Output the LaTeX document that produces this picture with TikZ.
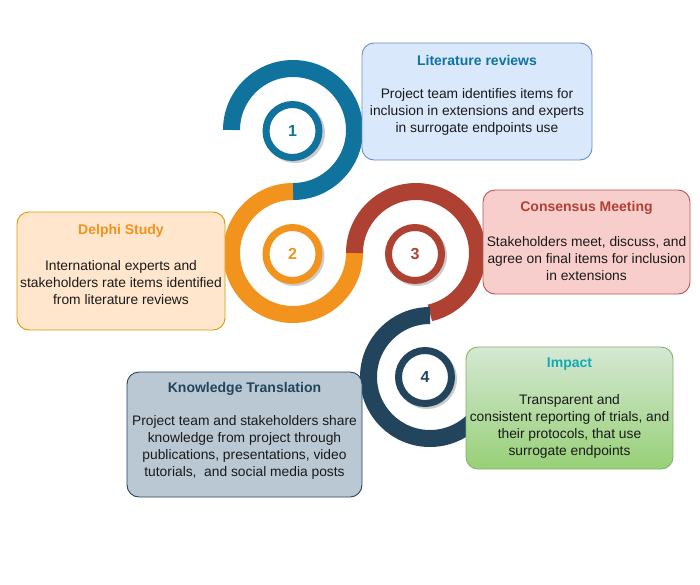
\documentclass[tikz,border=0pt]{standalone}
\usepackage{fontspec}
\setmainfont{Liberation Sans}
\definecolor{cBlue}{HTML}{10739E}
\definecolor{cOrange}{HTML}{F2931E}
\definecolor{cRed}{HTML}{AE4132}
\definecolor{cNavy}{HTML}{23445D}
\definecolor{cTeal}{HTML}{12AAB5}
\definecolor{fBlue}{HTML}{DAE8FC}
\definecolor{sBlue}{HTML}{6C8EBF}
\definecolor{fOrange}{HTML}{FFE6CC}
\definecolor{sOrange}{HTML}{D79B00}
\definecolor{fRed}{HTML}{F8CECC}
\definecolor{sRed}{HTML}{B85450}
\definecolor{fGreenT}{HTML}{D5E8D4}
\definecolor{fGreenB}{HTML}{97D077}
\definecolor{sGreen}{HTML}{82B366}
\definecolor{fGray}{HTML}{BAC8D3}
\definecolor{sGray}{HTML}{23445D}
\definecolor{txt}{HTML}{1A1A1A}
\tikzset{
  band/.style={line width=17pt},
  ringnode/.style={circle, draw=#1, line width=7pt, fill=white, minimum size=53pt, inner sep=0pt,
    text=#1, font=\fontsize{16}{16}\selectfont\bfseries},
  shade/.style={fill=black!20},
  infobox/.style={draw, rounded corners=12pt, line width=0.9pt, inner sep=0pt},
  boxtitle/.style={font=\fontsize{14}{17}\selectfont\bfseries, inner sep=0pt},
  boxbody/.style={font=\fontsize{13.8}{17}\selectfont, text=txt, align=center, inner sep=0pt},
}
\begin{document}
\begin{tikzpicture}[x=1pt,y=-1pt]
\useasboundingbox (0,0) rectangle (700,584);
% arc centres
\coordinate (c1) at (293,130);
\coordinate (c2) at (293,253);
\coordinate (c3) at (416,253);
\coordinate (c4) at (430,377);
% spiral bands
\draw[band, cBlue]   (c1) ++(-180:61.5) arc[start angle=-180, end angle=90, radius=61.5];
\draw[band, cOrange] (c2) ++(-90:61.5) arc[start angle=-90, end angle=-360, radius=61.5];
\draw[band, cRed]    (c3) ++(-180:61.5) arc[start angle=-180, end angle=77, radius=61.5];
\draw[band, cNavy]   (c4) ++(-90:61.5) arc[start angle=-90, end angle=-340, radius=61.5];
% number rings with shadows
\fill[shade] (295,133) circle[radius=30];
\node[ringnode=cBlue] (n1) at (292.5,131) {1};
\fill[shade] (294.5,256) circle[radius=30];
\node[ringnode=cOrange] (n2) at (292.5,254) {2};
\fill[shade] (417,256) circle[radius=30];
\node[ringnode=cRed] (n3) at (415,254) {3};
\fill[shade] (427,379) circle[radius=30];
\node[ringnode=cNavy] (n4) at (425,377) {4};
% boxes
\node[infobox, draw=sBlue, fill=fBlue, minimum width=230pt, minimum height=117pt] (b1) at (477,101.5) {};
\node[boxtitle, text=cBlue] (t1) at (477,60.5) {Literature reviews};
\node[boxbody] (d1) at (477,111.5) {Project team identifies items for\\inclusion in extensions and experts\\in surrogate endpoints use};

\node[infobox, draw=sOrange, fill=fOrange, minimum width=208pt, minimum height=118pt] (b2) at (121,271) {};
\node[boxtitle, text=cOrange] (t2) at (121,230.5) {Delphi Study};
\node[boxbody] (d2) at (121,282.5) {International experts and\\stakeholders rate items identified\\from literature reviews};

\node[infobox, draw=sRed, fill=fRed, minimum width=207pt, minimum height=104pt] (b3) at (586.5,242) {};
\node[boxtitle, text=cRed] (t3) at (586.5,207.5) {Consensus Meeting};
\node[boxbody] (d3) at (586.5,258.5) {Stakeholders meet, discuss, and\\agree on final items for inclusion\\in extensions};

\node[infobox, draw=sGreen, top color=fGreenT, bottom color=fGreenB, minimum width=207pt, minimum height=122pt] (b4) at (569.5,408) {};
\node[boxtitle, text=cTeal] (t4) at (569.5,364.5) {Impact};
\node[boxbody] (d4) at (569.5,426) {Transparent and\\consistent reporting of trials, and\\their protocols, that use\\surrogate endpoints};

\node[infobox, draw=sGray, fill=fGray, minimum width=235pt, minimum height=125pt] (b5) at (244.5,434.5) {};
\node[boxtitle, text=cNavy] (t5) at (244.5,388.5) {Knowledge Translation};
\node[boxbody] (d5) at (244.5,447) {Project team and stakeholders share\\knowledge from project through\\publications, presentations, video\\tutorials,~ and social media posts};
\end{tikzpicture}
\end{document}
